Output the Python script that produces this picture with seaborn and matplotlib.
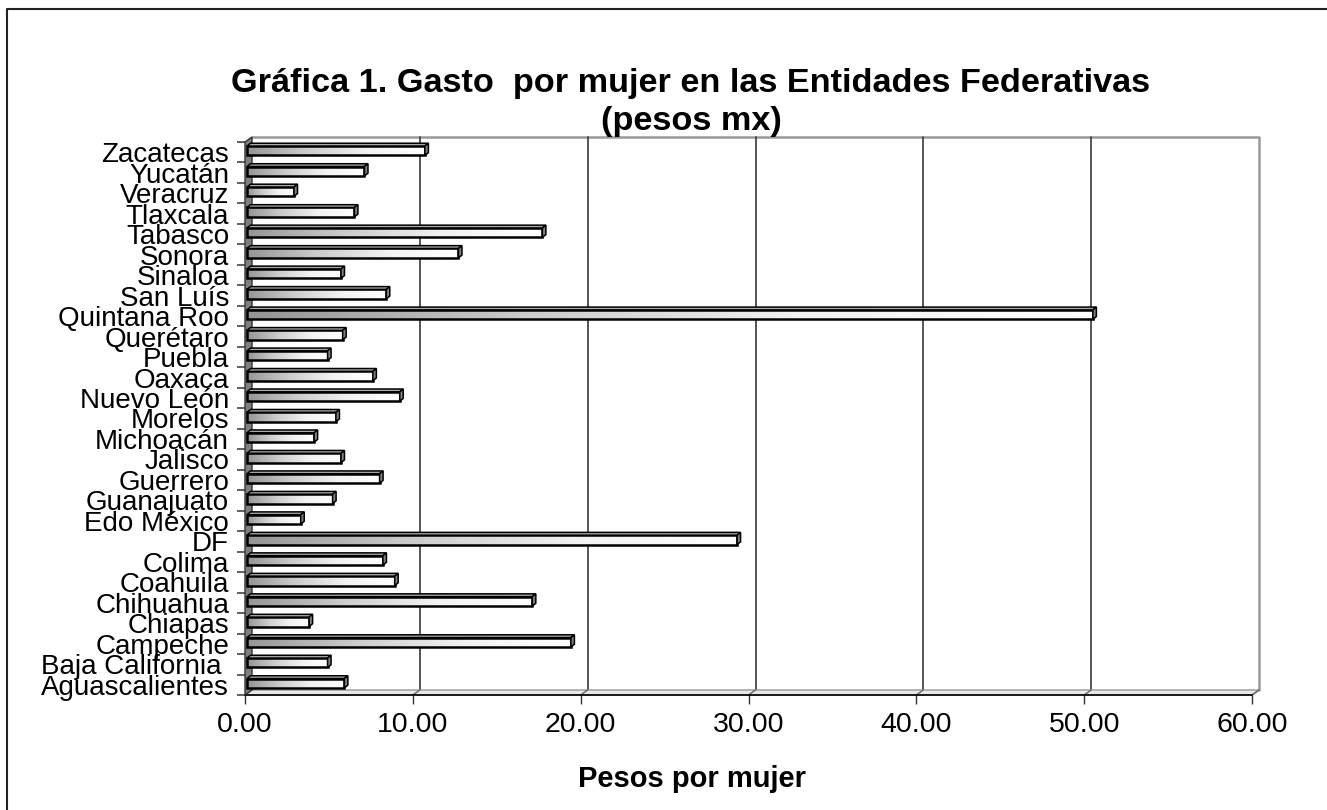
import matplotlib
matplotlib.use("Agg")
import matplotlib.pyplot as plt
import matplotlib.transforms as mtransforms
from matplotlib.colors import LinearSegmentedColormap
from matplotlib.lines import Line2D
from matplotlib.patches import Polygon
import numpy as np
import seaborn as sns

# Data (pesos por mujer)
states = ["Aguascalientes", "Baja California ", "Campeche", "Chiapas", "Chihuahua",
          "Coahuila", "Colima", "DF", "Edo México", "Guanajuato", "Guerrero",
          "Jalisco", "Michoacán", "Morelos", "Nuevo León", "Oaxaca", "Puebla",
          "Querétaro", "Quintana Roo", "San Luís", "Sinaloa", "Sonora", "Tabasco",
          "Tlaxcala", "Veracruz", "Yucatán", "Zacatecas"]
gasto = [5.8, 4.8, 19.3, 3.7, 17.0, 8.8, 8.1, 29.2, 3.2, 5.1, 7.9,
         5.6, 4.0, 5.3, 9.1, 7.5, 4.8, 5.7, 50.4, 8.3, 5.6, 12.6, 17.6,
         6.4, 2.8, 7.0, 10.6]
xticks = [0, 10, 20, 30, 40, 50, 60]

sns.set_theme(style="white")
plt.rcParams['font.family'] = ['Liberation Sans', 'DejaVu Sans']

W, H = 1327, 810
fig = plt.figure(figsize=(W / 100, H / 100), dpi=100)
ax = fig.add_axes([245 / W, (H - 695) / H, 1007 / W, 553 / H])

sns.barplot(x=gasto, y=states, order=states[::-1], orient='h', width=0.46,
            color='white', edgecolor='black', linewidth=1.8, ax=ax, zorder=3)
ax.set_xlim(0, 60)
ax.set_ylim(26.5, -0.5)

ident = mtransforms.IdentityTransform()
# 3D depth of the back wall, in pixels
DX, DY = 7, 5


def shift(dx, dy):
    return ax.transData + mtransforms.Affine2D().translate(dx, dy)


# walls, floor and gridlines
(fx0, fy0), (fx1, fy1) = ax.transAxes.transform([(0, 0), (1, 1)])
wall = Polygon([(fx0, fy0), (fx0, fy1), (fx0 + DX, fy1 + DY), (fx0 + DX, fy0 + DY)],
               closed=True, transform=ident, facecolor='#7f7f7f', edgecolor='#333',
               lw=1.0, zorder=1.5, clip_on=False)
floor = Polygon([(fx0, fy0), (fx1, fy0), (fx1 + DX, fy0 + DY), (fx0 + DX, fy0 + DY)],
                closed=True, transform=ident, facecolor='#e8e8e8', edgecolor='#999',
                lw=1.0, zorder=1.2, clip_on=False)
ax.add_patch(floor)
ax.add_patch(wall)
ax.add_line(Line2D([fx0 + DX, fx1 + DX, fx1 + DX], [fy1 + DY, fy1 + DY, fy0 + DY],
                   transform=ident, color='#999999', lw=1.8, zorder=1.1, clip_on=False))
for xv in xticks[1:]:
    xd = ax.transData.transform((xv, 0))[0]
    if xv < 60:
        ax.add_line(Line2D([xd + DX, xd + DX], [fy0 + DY, fy1 + DY], transform=ident,
                           color='#3a3a3a', lw=1.2, zorder=1.1, clip_on=False))
    ax.add_line(Line2D([xd, xd + DX], [fy0, fy0 + DY], transform=ident,
                       color='#666666', lw=1.0, zorder=1.3, clip_on=False))

# gradient bars with a small 3D top and end face
grad = np.linspace(0, 1, 256).reshape(1, -1)
cmap = LinearSegmentedColormap.from_list('bar', ['#959595', '#cccccc', '#f2f2f2', '#ffffff'])
bd = (2, 1.5)
for p in list(ax.patches):
    if p in (wall, floor):
        continue
    x0, y0, w, h = p.get_x(), p.get_y(), p.get_width(), p.get_height()
    tr = shift(*bd)
    p.set_transform(tr)
    p.set_facecolor('none')
    p.set_clip_on(False)
    im = ax.imshow(grad, extent=(x0, x0 + w, y0 + h, y0), aspect='auto', cmap=cmap,
                   transform=tr, zorder=2.8, interpolation='bilinear')
    im.set_clip_path(p)
    (ax_, ay_), (bx_, by_) = tr.transform([(x0, y0), (x0 + w, y0 + h)])
    left, right = min(ax_, bx_), max(ax_, bx_)
    top, bot = max(ay_, by_), min(ay_, by_)
    dx, dy = 3.5, 2.8
    ax.add_patch(Polygon([(left, top), (right, top), (right + dx, top + dy), (left + dx, top + dy)],
                         closed=True, transform=ident, facecolor='#aaaaaa', edgecolor='black',
                         lw=1.1, zorder=3.2, clip_on=False))
    ax.add_patch(Polygon([(right, top), (right, bot), (right + dx, bot + dy), (right + dx, top + dy)],
                         closed=True, transform=ident, facecolor='#808080', edgecolor='black',
                         lw=1.1, zorder=3.2, clip_on=False))

ax.set_xlim(0, 60)
ax.set_ylim(26.5, -0.5)

# axes styling
for side in ['top', 'right', 'left']:
    ax.spines[side].set_visible(False)
ax.spines['bottom'].set_color('black')
ax.spines['bottom'].set_linewidth(1.2)
ax.spines['bottom'].set_zorder(1.4)

ax.set_xticks(xticks)
ax.set_xticklabels([f"{v:.2f}" for v in xticks])
ax.tick_params(axis='x', bottom=True, length=6.5, width=1.0, color='#333333',
               direction='out', pad=6, labelsize=20.5, labelcolor='black')
ax.set_yticks(np.arange(-0.5, 27, 1), minor=True)
ax.tick_params(axis='y', which='major', left=True, length=0, pad=11.5,
               labelsize=20, labelcolor='black')
ax.tick_params(axis='y', which='minor', left=True, length=6, width=1.2,
               color='#444444', direction='out')
ax.set_ylabel('')

ax.set_xlabel('Pesos por mujer', fontsize=21, fontweight='bold', color='black')
ax.xaxis.set_label_coords((692 - 245) / 1007, (23 - 115) / 553)
ax.xaxis.label.set_va('baseline')

fig.text(691 / W, 1 - 68 / H,
         "Gráfica 1. Gasto  por mujer en las Entidades Federativas\n(pesos mx)",
         ha='center', va='top', fontsize=24.7, fontweight='bold', linespacing=1.3,
         color='black')

# chart border (top and left edges)
fig.add_artist(Line2D([7 / W, 7 / W, 1], [0, 1 - 8.5 / H, 1 - 8.5 / H],
                      transform=fig.transFigure, color='#222222', lw=1.5))

fig.savefig('out.png', dpi=100)
